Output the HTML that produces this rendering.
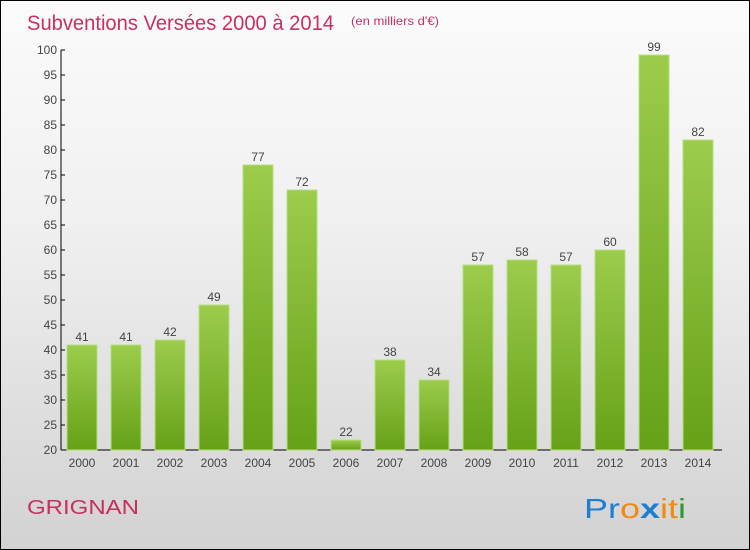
<!DOCTYPE html>
<html><head><meta charset="utf-8"><style>
body{margin:0;}
#wrap{width:748px;height:548px;border:1px solid #000;background:linear-gradient(#fbfbfb,#f0f0f0 40%,#d2d2d2);position:relative;overflow:hidden;font-family:"Liberation Sans",sans-serif;}
</style></head><body>
<div id="wrap">
<svg id="chart" width="748" height="548">
<defs><linearGradient id="g" x1="0" y1="0" x2="0" y2="1"><stop offset="0" stop-color="#9ccc4c"/><stop offset="1" stop-color="#66a118"/></linearGradient></defs>
<text x="26" y="29" font-size="21" fill="#c8305e" textLength="307" lengthAdjust="spacingAndGlyphs">Subventions Versées 2000 à 2014</text>
<text x="350" y="24" font-size="12" fill="#c8305e" textLength="88" lengthAdjust="spacingAndGlyphs">(en milliers d'€)</text>
<text x="26" y="513" font-size="20" fill="#c8305e" textLength="112" lengthAdjust="spacingAndGlyphs">GRIGNAN</text>
<g font-size="28" font-family="'Liberation Sans',sans-serif">
<text x="583" y="517" textLength="102" lengthAdjust="spacingAndGlyphs"><tspan fill="#1e7fd0">Pr</tspan><tspan fill="#f08a10">o</tspan><tspan fill="#1e7fd0" font-weight="bold">x</tspan><tspan fill="#f08a10">i</tspan><tspan fill="#f08a10">t</tspan><tspan fill="#2a9a3a">i</tspan></text></g>
<g id="axes"></g><g id="bars"></g>
</svg>
</div>
<script>
const categories=["2000","2001","2002","2003","2004","2005","2006","2007","2008","2009","2010","2011","2012","2013","2014"];
const values=[41,41,42,49,77,72,22,38,34,57,58,57,60,99,82];
const yTicks=[20,25,30,35,40,45,50,55,60,65,70,75,80,85,90,95,100];
const NS="http://www.w3.org/2000/svg";
const y=v=>449-(v-20)*5;
const x=i=>81+i*44;
function mk(t,a,p){const e=document.createElementNS(NS,t);for(const k in a)e.setAttribute(k,a[k]);p.appendChild(e);return e;}
const ax=document.getElementById('axes'),bs=document.getElementById('bars');
const yl=mk('line',{x1:60,x2:60,y1:49,y2:449,stroke:'#000'},ax);


const xl=mk('line',{x1:60,x2:721,y1:449,y2:449,stroke:'#000'},ax);


yTicks.forEach(v=>{
 mk('line',{x1:60,x2:64,y1:y(v),y2:y(v),stroke:'#000'},ax);
 const t=mk('text',{x:56,y:y(v)+4,'text-anchor':'end','font-size':12,fill:'#444'},ax);t.textContent=v;
 
 
});
categories.forEach((c,i)=>{
 const r=mk('rect',{x:x(i)-15,y:y(values[i]),width:30,height:449-y(values[i]),fill:'url(#g)',stroke:'#b8de80','stroke-width':1},bs);
 
 
 const l=mk('text',{x:x(i),y:y(values[i])-4,'text-anchor':'middle','font-size':12,fill:'#444'},bs);l.textContent=values[i];
 
 
 const t=mk('text',{x:x(i),y:466,'text-anchor':'middle','font-size':12,fill:'#444'},ax);t.textContent=c;
 
 
});
</script>
</body></html>
